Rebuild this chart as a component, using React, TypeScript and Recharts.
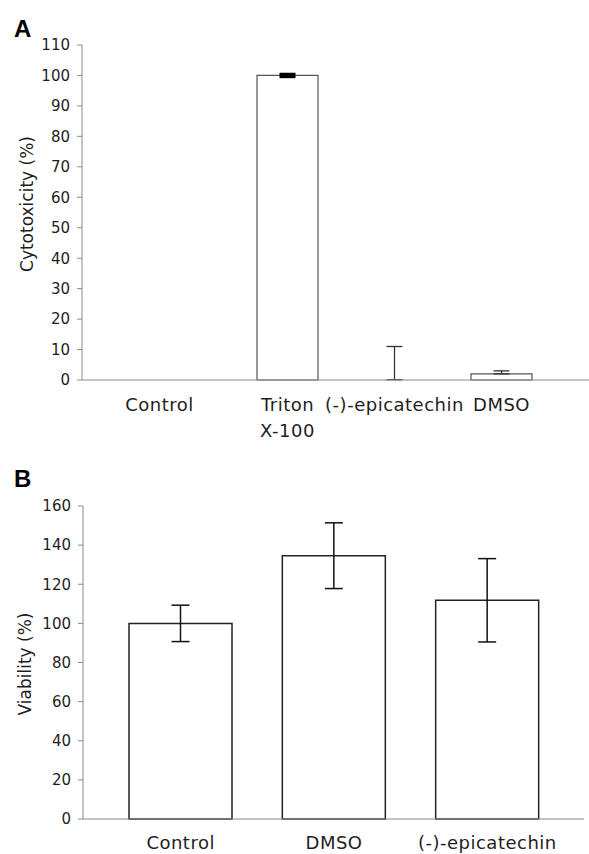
import React from "react";
import { BarChart, Bar, XAxis, YAxis, ErrorBar, Cell } from "recharts";

// Panel A - cytotoxicity
const catsA = ["Control", "Triton\nX-100", "(-)-epicatechin", "DMSO"];
const valsA = [0, 100, 0.1, 2];
const errHeavyA = [null, 0.4, null, null];
const errLightA: ([number, number] | null)[] = [null, null, [0, 10.9], [0, 1]];
const ticksA = [0, 10, 20, 30, 40, 50, 60, 70, 80, 90, 100, 110];

// Panel B - viability
const catsB = ["Control", "DMSO", "(-)-epicatechin"];
const valsB = [100, 134.6, 111.8];
const errB = [9.3, 16.8, 21.3];
const ticksB = [0, 20, 40, 60, 80, 100, 120, 140, 160];

const dataA = catsA.map((c, i) => ({
  name: c,
  v: valsA[i],
  errH: errHeavyA[i],
  errL: errLightA[i],
}));
const dataB = catsB.map((c, i) => ({ name: c, v: valsB[i], err: errB[i] }));

const FONT = "'DejaVu Sans', Verdana, sans-serif";
const AXIS = "#8a8a8a";
const TEXT = "#1e1e1e";

const CatTick = ({ x, y, payload, shift = 0, base = 31 }: any) => {
  const lines = String(payload.value).split("\n");
  return (
    <g transform={`translate(${x + (payload.index === 0 ? shift : 0)},${y})`}>
      {lines.map((l, i) => (
        <text
          key={i}
          x={0}
          y={base + i * 26}
          textAnchor="middle"
          fontFamily={FONT}
          fontSize={18}
          fill={TEXT}
          letterSpacing={0.5}
        >
          {l}
        </text>
      ))}
    </g>
  );
};

const yTick = { fontFamily: FONT, fontSize: 15, fill: TEXT };

const Letter = ({ top, children }: any) => (
  <div
    style={{
      position: "absolute",
      left: 14,
      top,
      fontFamily: "'Liberation Sans', Arial, sans-serif",
      fontWeight: "bold",
      fontSize: 24,
      lineHeight: "24px",
      color: "#000",
    }}
  >
    {children}
  </div>
);

const YTitle = ({ cx, cy, children }: any) => (
  <div
    style={{
      position: "absolute",
      left: cx - 100,
      top: cy - 11,
      width: 200,
      height: 22,
      lineHeight: "22px",
      textAlign: "center",
      transform: "rotate(-90deg)",
      fontFamily: FONT,
      fontSize: 17,
      color: TEXT,
    }}
  >
    {children}
  </div>
);

export default function App() {
  return (
    <div
      style={{
        position: "absolute",
        left: 0,
        top: 0,
        width: 589,
        height: 854,
        background: "#fff",
        overflow: "hidden",
      }}
    >
      <Letter top={17}>A</Letter>
      <YTitle cx={27} cy={204}>Cytotoxicity (%)</YTitle>
      <div style={{ position: "absolute", left: 0, top: 0 }}>
        <BarChart
          width={589}
          height={440}
          data={dataA}
          margin={{ top: 45, right: 0, bottom: 0, left: 0 }}
        >
          <XAxis
            dataKey="name"
            height={60}
            padding={{ left: 45, right: 34 }}
            axisLine={{ stroke: AXIS }}
            tickLine={false}
            tickSize={0}
            tickMargin={0}
            interval={0}
            tick={<CatTick shift={-21} base={31} />}
          />
          <YAxis
            width={82}
            domain={[0, 110]}
            ticks={ticksA}
            interval={0}
            axisLine={{ stroke: AXIS }}
            tickLine={{ stroke: AXIS }}
            tickSize={5}
            tickMargin={7}
            tick={yTick}
          />
          <Bar
            dataKey="v"
            barSize={61}
            fill="#fff"
            stroke="#555"
            strokeWidth={1.2}
            isAnimationActive={false}
          >
            {dataA.map((d, i) => (
              <Cell key={i} stroke={d.v < 1 ? "none" : "#555"} />
            ))}
            <ErrorBar dataKey="errH" width={8} stroke="#000" strokeWidth={3} direction="y" />
            <ErrorBar dataKey="errL" width={8} stroke="#333" strokeWidth={1.3} direction="y" />
          </Bar>
        </BarChart>
      </div>

      <Letter top={467}>B</Letter>
      <YTitle cx={25} cy={664}>Viability (%)</YTitle>
      <div style={{ position: "absolute", left: 0, top: 440 }}>
        <BarChart
          width={589}
          height={414}
          data={dataB}
          margin={{ top: 66, right: 5, bottom: 0, left: 0 }}
        >
          <XAxis
            dataKey="name"
            height={35}
            padding={{ left: 21, right: 20 }}
            axisLine={{ stroke: AXIS }}
            tickLine={false}
            tickSize={0}
            tickMargin={0}
            interval={0}
            tick={<CatTick base={30} />}
          />
          <YAxis
            width={83}
            domain={[0, 160]}
            ticks={ticksB}
            interval={0}
            axisLine={{ stroke: AXIS }}
            tickLine={{ stroke: AXIS }}
            tickSize={5}
            tickMargin={7}
            tick={yTick}
          />
          <Bar
            dataKey="v"
            barSize={103}
            fill="#fff"
            stroke="#222"
            strokeWidth={1.5}
            isAnimationActive={false}
          >
            <ErrorBar dataKey="err" width={9} stroke="#111" strokeWidth={1.5} direction="y" />
          </Bar>
        </BarChart>
      </div>
    </div>
  );
}
